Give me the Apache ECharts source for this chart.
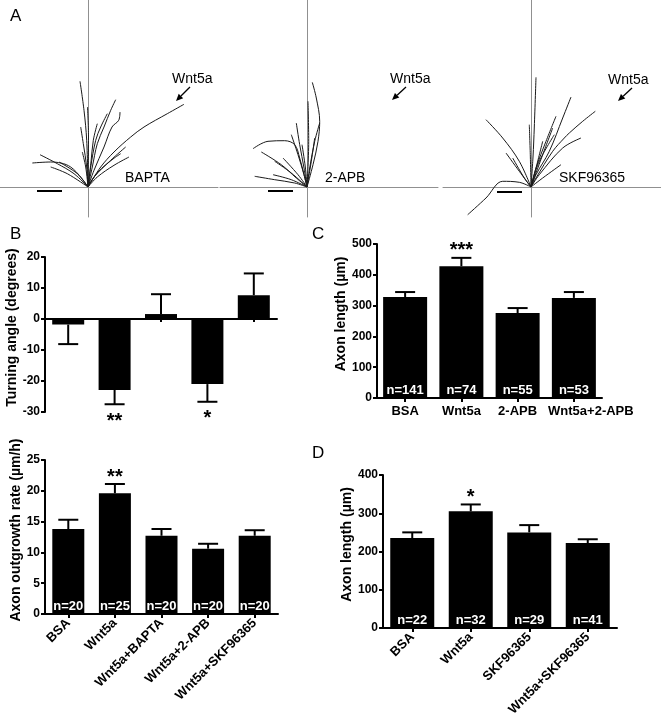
<!DOCTYPE html>
<html><head><meta charset="utf-8">
<script src="https://cdn.jsdelivr.net/npm/echarts/dist/echarts.min.js"></script>
<style>html,body{margin:0;padding:0;background:#fff}#c{width:661px;height:720px}</style>
</head><body><div id="c"></div><script>
// ---------------- data ----------------
const turnCats = ['BSA','Wnt5a','Wnt5a+BAPTA','Wnt5a+2-APB','Wnt5a+SKF96365'];
const turnVals = [-1.8,-22.9,1.6,-21.0,7.7];
const turnSem  = [6.3,4.6,6.4,5.7,7.0];
const turnSig  = ['','**','','*',''];
const turnTicks = [-30,-20,-10,0,10,20];

const rateCats = ['BSA','Wnt5a','Wnt5a+BAPTA','Wnt5a+2-APB','Wnt5a+SKF96365'];
const rateVals = [13.8,19.6,12.7,10.6,12.7];
const rateSem  = [1.5,1.5,1.1,0.8,0.9];
const rateN    = [20,25,20,20,20];
const rateSig  = ['','**','','',''];
const rateTicks = [0,5,10,15,20,25];

const lenCCats = ['BSA','Wnt5a','2-APB','Wnt5a+2-APB'];
const lenCVals = [328,428,276,325];
const lenCSem  = [16,27,16,19];
const lenCN    = [141,74,55,53];
const lenCSig  = ['','***','',''];
const lenCTicks = [0,100,200,300,400,500];

const lenDCats = ['BSA','Wnt5a','SKF96365','Wnt5a+SKF96365'];
const lenDVals = [235,305,250,222];
const lenDSem  = [15,18,19,10];
const lenDN    = [22,32,29,41];
const lenDSig  = ['','*','',''];
const lenDTicks = [0,100,200,300,400];

// Panel A axon traces (relative to the growth-cone origin)
const baptaTraces = [
  [[0,0],[12.7,20],[26,35],[42.7,50],[56,60],[79.3,73.3],[96,82.7]],
  [[0,0],[-1.3,46.7],[-4,76.7],[-8,105.7]],
  [[0,0],[0.5,50],[-0.5,80]],
  [[0,0],[4.3,20],[9.3,43.3],[16,60],[22.7,76.7],[27.7,87.3]],
  [[0,0],[6,16.7],[16,40],[24,60],[30.7,66.7],[32,75]],
  [[0,0],[2.7,20],[7.7,46.7],[12.7,60],[19.3,73.3]],
  [[0,0],[3,25],[5.3,46.7],[9.3,63.3]],
  [[0,0],[-1.3,20],[-4.7,43.3],[-7.3,60]],
  [[0,0],[-2.3,20],[-5.7,35]],
  [[0,0],[-17.3,20],[-37.3,25],[-55.7,24]],
  [[0,0],[-14,13.3],[-30.7,23.3],[-48,32.3]],
  [[0,0],[-20.7,13.3],[-37.3,20]],
  [[0,0],[-10.7,13.3],[-29,25]],
  [[0,0],[9.3,10],[26,21.7],[41,30]],
  [[0,0],[6,10],[22.7,26.7],[37.7,40]],
  [[0,0],[10,15],[25,28],[32.7,33.3]]
];
const apbTraces = [
  [[0,0],[6,22.3],[11,45.7],[12.7,65.7],[9.3,89],[5.3,104.7]],
  [[0,0],[1.7,45.7],[1,85.7]],
  [[0,0],[2.7,19],[7.7,45.7],[12.7,64]],
  [[0,0],[-3,19],[-7.3,42.3],[-10.7,64]],
  [[0,0],[-3,12.3],[-7.3,29],[-12.3,42.3],[-22.3,46.3],[-39,45.7],[-54,38.3]],
  [[0,0],[-10.7,9],[-25.7,22.3],[-45.7,35]],
  [[0,0],[-12.3,4],[-32.3,7.3],[-52.3,10.7]],
  [[0,0],[-15.7,7.3],[-34,12.3]],
  [[0,0],[-3,12.3],[-9,32.3],[-15.7,52.3]],
  [[0,0],[-15.7,14],[-32.3,25.7]],
  [[0,0],[4.3,25.7],[7.7,49]],
  [[0,0],[-9,12.3],[-24,29]],
  [[0,0],[-1.7,20],[-5,42.3]]
];
const skfTraces = [
  [[0,0],[2,30],[3.3,60],[5,109.7]],
  [[0,0],[5,12.3],[18.3,35.7],[31.7,69],[40,90]],
  [[0,0],[5,9],[21.7,35.7],[33.3,49],[38.3,54],[51.7,65.7],[64.3,75.7]],
  [[0,0],[8.3,12.3],[31.7,39],[50,49]],
  [[0,0],[-11.7,25.7],[-28.3,49],[-45,67.3]],
  [[0,0],[5,19],[15,45.7],[25,70.7]],
  [[0,0],[-11.7,4.7],[-28.3,5.7],[-45,-11],[-63.3,-27.7]],
  [[0,0],[-11.7,15.7],[-25,34]],
  [[0,0],[11.7,9],[30,22.3]],
  [[0,0],[-0.7,32.3],[-1.7,62.3]],
  [[0,0],[5,19],[11.7,45.7]],
  [[0,0],[11.7,32.3],[21.7,59]],
  [[0,0],[-6.7,9],[-18.3,29]],
  [[0,0],[8,25],[23.3,52.3]]
];
const scaleBars = [
  [[-51,-4],[-26,-4]],
  [[-39,-4],[-14,-4]],
  [[-34,-5],[-9,-5]]
];
const treatLabels = ['BAPTA','2-APB','SKF96365'];
const cueLabel = 'Wnt5a';

// ---------------- layout ----------------
const FONT = '"Liberation Sans", Arial, Helvetica, sans-serif';
const chart = echarts.init(document.getElementById('c'), null, {renderer:'canvas'});

const grids = [
  {left:0,   top:0, width:218, height:217},
  {left:220, top:0, width:218, height:217},
  {left:443, top:0, width:218, height:217},
  {left:45,  top:257, width:232, height:155},
  {left:45,  top:460, width:233, height:154},
  {left:377, top:244, width:225, height:154},
  {left:383, top:475, width:234, height:153}
].map(g => Object.assign({outerBoundsMode:'none', containLabel:false}, g));

const aRanges = [[-88,130],[-87,131],[-88,130]];
const xAxes = [], yAxes = [];
aRanges.forEach((r, k) => {
  xAxes.push({type:'value', gridIndex:k, min:r[0], max:r[1],
    axisLine:{show:true, onZero:true, lineStyle:{color:'#909090', width:1}},
    axisTick:{show:false}, axisLabel:{show:false}, splitLine:{show:false}});
  yAxes.push({type:'value', gridIndex:k, min:-30, max:187,
    axisLine:{show:true, onZero:true, lineStyle:{color:'#909090', width:1}},
    axisTick:{show:false}, axisLabel:{show:false}, splitLine:{show:false}});
});

function catAxis(k, cats, showLabels, rotate, margin, tickLen, lastShift) {
  const data = cats.map((c, i) => (lastShift && i === cats.length - 1)
    ? {value:c, textStyle:{padding:[0,0,0,lastShift]}} : c);
  return {type:'category', gridIndex:k, data:data,
    axisLine:{show:true, onZero:true, lineStyle:{color:'#000', width:2}},
    axisTick:{show:true, alignWithLabel:true, length:tickLen, lineStyle:{color:'#000', width:2}},
    axisLabel:{show:showLabels, interval:0, rotate:rotate, margin:margin, color:'#000',
      fontWeight:'bold', fontSize:13, fontFamily:FONT, hideOverlap:false},
    splitLine:{show:false}};
}
function valAxis(k, ticks, name, gap) {
  return {type:'value', gridIndex:k, min:ticks[0], max:ticks[ticks.length-1],
    interval:ticks[1]-ticks[0],
    name:name, nameLocation:'middle', nameGap:gap, nameRotate:90,
    nameTextStyle:{color:'#000', fontWeight:'bold', fontSize:14, fontFamily:FONT, padding:[0,0,0,14]},
    axisLine:{show:true, onZero:false, lineStyle:{color:'#000', width:2}},
    axisTick:{show:true, length:4, lineStyle:{color:'#000', width:2}},
    axisLabel:{color:'#000', fontWeight:'bold', fontSize:12, fontFamily:FONT, margin:5},
    splitLine:{show:false}};
}
xAxes.push(catAxis(3, turnCats, false, 0, 8, 3));
yAxes.push(valAxis(3, turnTicks, 'Turning angle (degrees)', 23));
xAxes.push(catAxis(4, rateCats, true, 45, 7, 4));
yAxes.push(valAxis(4, rateTicks, 'Axon outgrowth rate (µm/h)', 19));
xAxes.push(catAxis(5, lenCCats, true, 0, 7, 4, 34));
yAxes.push(valAxis(5, lenCTicks, 'Axon length (µm)', 29));
xAxes.push(catAxis(6, lenDCats, true, 45, 7, 4));
yAxes.push(valAxis(6, lenDTicks, 'Axon length (µm)', 25));

const series = [];
[baptaTraces, apbTraces, skfTraces].forEach((set, k) => {
  set.forEach(tr => series.push({type:'line', xAxisIndex:k, yAxisIndex:k, data:tr,
    showSymbol:false, smooth:0.35, silent:true, animation:false,
    lineStyle:{color:'#1a1a1a', width:1}}));
  series.push({type:'line', xAxisIndex:k, yAxisIndex:k, data:scaleBars[k],
    showSymbol:false, silent:true, animation:false, lineStyle:{color:'#000', width:2}});
});

function errRender(sig) {
  return function(params, api) {
    const i = api.value(0), v = api.value(1), e = api.value(2);
    const p0 = api.coord([i, v]), p1 = api.coord([i, e]);
    const up = e >= v;
    const ch = [
      {type:'line', shape:{x1:p0[0], y1:p0[1], x2:p1[0], y2:p1[1]}, style:{stroke:'#000', lineWidth:2}},
      {type:'line', shape:{x1:p1[0]-10, y1:p1[1], x2:p1[0]+10, y2:p1[1]}, style:{stroke:'#000', lineWidth:2}}
    ];
    const s = sig[params.dataIndex];
    if (s) ch.push({type:'text', style:{text:s, x:p1[0], y: up ? p1[1]-7 : p1[1]+17,
      align:'center', verticalAlign:'middle', fontSize:20, fontWeight:'bold', fontFamily:FONT, fill:'#000'}});
    return {type:'group', children:ch};
  };
}
function addBars(k, vals, sem, nArr, sig, bw) {
  series.push({type:'bar', xAxisIndex:k, yAxisIndex:k, data:vals, barWidth:bw,
    itemStyle:{color:'#000'}, silent:true, animation:false,
    label: nArr ? {show:true, position:'insideBottom', distance:1, color:'#fff',
      fontWeight:'bold', fontSize:13, fontFamily:FONT,
      formatter: p => 'n=' + nArr[p.dataIndex]} : {show:false}});
  series.push({type:'custom', xAxisIndex:k, yAxisIndex:k, z:3, silent:true, animation:false,
    data: vals.map((v,i) => [i, v, v + (v < 0 ? -sem[i] : sem[i])]),
    encode:{x:0, y:[1,2]},
    renderItem: errRender(sig)});
}
addBars(3, turnVals, turnSem, null, turnSig, 32);
addBars(4, rateVals, rateSem, rateN, rateSig, 32);
addBars(5, lenCVals, lenCSem, lenCN, lenCSig, 44);
addBars(6, lenDVals, lenDSem, lenDN, lenDSig, 44);

// annotations
function arrow(x1, y1, x2, y2) {
  const dx = x2-x1, dy = y2-y1, L = Math.hypot(dx, dy), ux = dx/L, uy = dy/L;
  const hl = 7, hw = 3.2;
  const bx = x2 - ux*hl, by = y2 - uy*hl;
  return {type:'group', children:[
    {type:'line', shape:{x1:x1, y1:y1, x2:bx, y2:by}, style:{stroke:'#000', lineWidth:1.3}},
    {type:'polygon', shape:{points:[[x2,y2],[bx - uy*hw, by + ux*hw],[bx + uy*hw, by - ux*hw]]}, style:{fill:'#000'}}
  ]};
}
const txt = (t, x, y, size, va) => ({type:'text', x:x, y:y, style:{text:t, fontSize:size,
  fontFamily:FONT, fill:'#000', verticalAlign:va || 'middle', align:'left'}});
const graphic = [
  txt('A', 10, 16, 17), txt('B', 10, 234, 17), txt('C', 312, 234, 17), txt('D', 312, 453, 17),
  txt(treatLabels[0], 125, 178, 14), txt(treatLabels[1], 325, 178, 14), txt(treatLabels[2], 559, 178, 14),
  txt(cueLabel, 172, 79, 14), txt(cueLabel, 390, 79, 14), txt(cueLabel, 608, 80, 14),
  arrow(190, 87, 176, 101), arrow(406, 87, 392, 100), arrow(632, 88, 618, 101)
];

chart.setOption({
  animation:false,
  backgroundColor:'#fff',
  grid:grids, xAxis:xAxes, yAxis:yAxes, series:series, graphic:graphic
});
</script></body></html>
